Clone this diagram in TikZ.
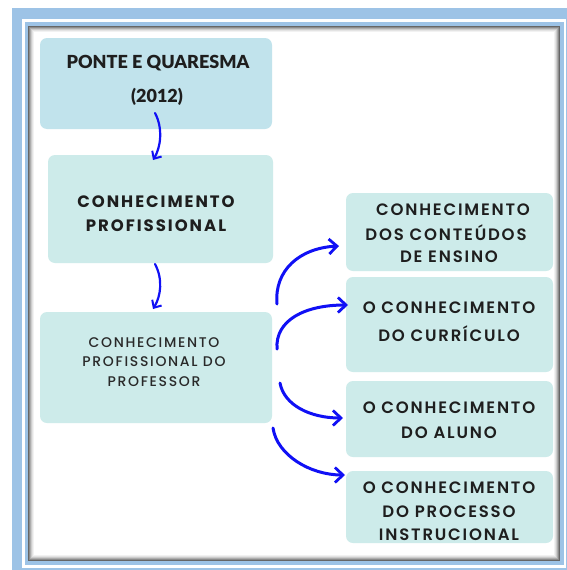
\documentclass[tikz,border=0pt]{standalone}
\usepackage{fontspec}
\setmainfont{Poppins}
\newfontfamily\lato{Lato}[UprightFont={* Black}]
\newfontfamily\popm{Poppins SemiBold}[LetterSpace=11]
\newfontfamily\popb{Poppins}[LetterSpace=12]
\newfontfamily\pops{Poppins Medium}[LetterSpace=12]
\usetikzlibrary{arrows.meta}
\definecolor{frameblue}{HTML}{9DC3E6}
\definecolor{boxA}{HTML}{C1E3EC}
\definecolor{boxB}{HTML}{CDEBEA}
\definecolor{arr}{HTML}{1010F5}
\definecolor{txt}{HTML}{1E1E1E}
\begin{document}
\begin{tikzpicture}[x=1pt,y=-1pt,
  panel/.style={rounded corners=7pt, inner sep=0pt, draw=none},
  ttl/.style={font=\lato\fontsize{18}{20}\selectfont, text=txt, inner sep=0pt},
  bigtxt/.style={font=\popb\bfseries\fontsize{16.5}{17}\selectfont, text=txt, inner sep=0pt},
  midtxt/.style={font=\popm\fontsize{16.5}{17}\selectfont, text=txt, inner sep=0pt},
  smltxt/.style={font=\pops\fontsize{14}{15}\selectfont, text=txt!95, inner sep=0pt},
  flow/.style={draw=arr, line width=3pt, line cap=round, -{Straight Barb[length=8pt,width=15pt,line width=2.8pt]}},
  flowsm/.style={draw=arr, line width=2.2pt, line cap=round, -{Straight Barb[length=6pt,width=11pt,line width=2pt]}}
]
\useasboundingbox (0,0) rectangle (567,570);
% frame
\fill[frameblue] (12,8) rectangle (570,573);
\fill[white] (22,19) rectangle (566,568);
\fill[frameblue] (25,22) rectangle (564,565);
\fill[white] (28,26) rectangle (560,561);
\foreach \i/\g in {0/60,1/45,2/32,3/20,4/11,5/5}{
  \draw[black!\g, line width=1pt] (28.5+\i,26.5+\i) rectangle (559.5-\i,560.5-\i);
}
% boxes
\node[panel, fill=boxA, minimum width=232pt, minimum height=91pt] (b1) at (156,83.5) {};
\node[panel, fill=boxB, minimum width=225pt, minimum height=108pt] (b2) at (160.5,209) {};
\node[panel, fill=boxB, minimum width=232pt, minimum height=111pt] (b3) at (156,367.5) {};
\node[panel, fill=boxB, minimum width=207pt, minimum height=78pt] (r1) at (449.5,232) {};
\node[panel, fill=boxB, minimum width=207pt, minimum height=95pt] (r2) at (449.5,324.5) {};
\node[panel, fill=boxB, minimum width=207pt, minimum height=76pt] (r3) at (449.5,419) {};
\node[panel, fill=boxB, minimum width=207pt, minimum height=72pt] (r4) at (449.5,507) {};
% texts
\node[ttl] (t1a) at (158,63) {PONTE E QUARESMA};
\node[ttl] (t1b) at (157,97) {(2012)};
\node[bigtxt] (t2a) at (156,202) {CONHECIMENTO};
\node[bigtxt] (t2b) at (156,226) {PROFISSIONAL};
\node[smltxt] (t3a) at (154,343) {CONHECIMENTO};
\node[smltxt] (t3b) at (154,362) {PROFISSIONAL DO};
\node[smltxt] (t3c) at (154,382) {PROFESSOR};
\node[midtxt] (r1a) at (453,210) {CONHECIMENTO};
\node[midtxt] (r1b) at (446,233) {DOS CONTEÚDOS};
\node[midtxt] (r1c) at (449,257) {DE ENSINO};
\node[midtxt] (r2a) at (449,308) {O CONHECIMENTO};
\node[midtxt] (r2b) at (449,334) {DO CURRÍCULO};
\node[midtxt] (r3a) at (449,408) {O CONHECIMENTO};
\node[midtxt] (r3b) at (449,433) {DO ALUNO};
\node[midtxt] (r4a) at (449,488) {O CONHECIMENTO};
\node[midtxt] (r4b) at (449,512) {DO PROCESSO};
\node[midtxt] (r4c) at (449,535) {INSTRUCIONAL};
% arrow end points
\coordinate (a1s) at (155,113);
\coordinate (a1e) at (153,160);
\coordinate (a2s) at (155,264);
\coordinate (a2e) at (153,309);
\coordinate (c1s) at (277,304);
\coordinate (c1e) at (339,246);
\coordinate (c2s) at (277,349);
\coordinate (c2e) at (348,305);
\coordinate (c3s) at (280,383);
\coordinate (c3e) at (343,418);
\coordinate (c4s) at (273,428);
\coordinate (c4e) at (345,475);
\draw[flowsm] (a1s) .. controls (163,128) and (161,147) .. (a1e);
\draw[flowsm] (a2s) .. controls (163,279) and (161,296) .. (a2e);
\draw[flow] (c1s) .. controls (274,270) and (300,248) .. (c1e);
\draw[flow] (c2s) .. controls (275,320) and (305,305) .. (c2e);
\draw[flow] (c3s) .. controls (284,405) and (310,418) .. (c3e);
\draw[flow] (c4s) .. controls (277,455) and (310,475) .. (c4e);
\end{tikzpicture}
\end{document}
